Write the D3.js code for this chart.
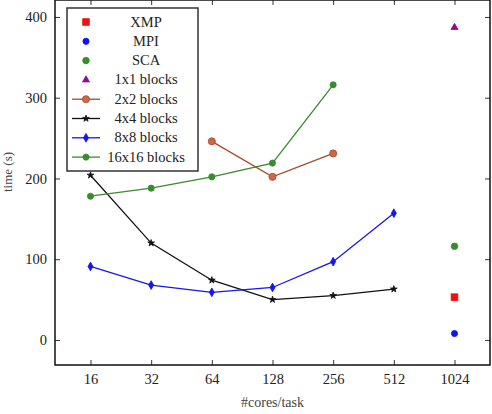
<!DOCTYPE html>
<html>
<head>
<meta charset="utf-8">
<script src="https://cdn.jsdelivr.net/npm/d3@7"></script>
<style>
  body { margin: 0; background: #fff; }
  text { font-family: "Liberation Serif", "DejaVu Serif", serif; }
</style>
</head>
<body>
<script>
// data
const cores = [16, 32, 64, 128, 256, 512, 1024];
const xmp = [[1024, 53]];
const mpi = [[1024, 8]];
const sca = [[1024, 116]];
const blocks1 = [[1024, 387]];
const blocks2 = [[64, 246], [128, 202], [256, 231]];
const blocks4 = [[16, 204], [32, 120], [64, 74], [128, 50], [256, 55], [512, 63]];
const blocks8 = [[16, 91], [32, 68], [64, 59], [128, 65], [256, 97], [512, 157]];
const blocks16 = [[16, 178], [32, 188], [64, 202], [128, 219], [256, 316]];
const yTicks = [0, 100, 200, 300, 400];

const series = [
  { name: 'XMP', data: xmp, color: '#f01010', symbol: d3.symbolSquare, size: 45, line: false },
  { name: 'MPI', data: mpi, color: '#1010f0', symbol: d3.symbolCircle, size: 30, line: false },
  { name: 'SCA', data: sca, color: '#3a8a30', symbol: d3.symbolCircle, size: 34, line: false },
  { name: '1x1 blocks', data: blocks1, color: '#8a1090', symbol: d3.symbolTriangle, size: 22, line: false },
  { name: '2x2 blocks', data: blocks2, color: '#a8482a', symbol: d3.symbolCircle, size: 40, line: true, fill: '#c86a4a' },
  { name: '4x4 blocks', data: blocks4, color: '#111111', symbol: d3.symbolStar, size: 14, line: true },
  { name: '8x8 blocks', data: blocks8, color: '#1515f0', symbol: d3.symbolDiamond, size: 22, line: true },
  { name: '16x16 blocks', data: blocks16, color: '#3a8a30', symbol: d3.symbolCircle, size: 30, line: true }
];

const margin = { top: 0, right: 2, bottom: 49, left: 55 };
const width = 492 - margin.left - margin.right;
const height = 414 - margin.top - margin.bottom;

const svg = d3.select('body').append('svg')
  .attr('width', 492)
  .attr('height', 414)
  .append('g')
  .attr('transform', `translate(${margin.left}, ${margin.top})`);

const x = d3.scaleLog().base(2).domain([16 / 1.5, 1024 * 1.5]).range([0, width]);
const y = d3.scaleLinear().domain([-31, 421]).range([height, 0]);

const xAxis = d3.axisBottom(x).tickValues(cores).tickFormat(d3.format('d')).tickSizeInner(-5).tickSizeOuter(0).tickPadding(9);
const xTop = d3.axisTop(x).tickValues(cores).tickFormat('').tickSizeInner(-5).tickSizeOuter(0);
const yAxis = d3.axisLeft(y).tickValues(yTicks).tickSizeInner(-5).tickSizeOuter(0).tickPadding(8);
const yRight = d3.axisRight(y).tickValues(yTicks).tickFormat('').tickSizeInner(-5).tickSizeOuter(0);

svg.append('g').attr('transform', `translate(0,${height})`).call(xAxis);
svg.append('g').call(xTop);
svg.append('g').call(yAxis);
svg.append('g').attr('transform', `translate(${width},0)`).call(yRight);

svg.selectAll('.domain').remove();
svg.selectAll('.tick line').attr('stroke', '#333');
svg.selectAll('.tick text').attr('font-size', 14.5).attr('fill', '#222')
  .style('font-family', '"Liberation Serif", serif');

svg.append('rect')
  .attr('width', width).attr('height', height)
  .attr('fill', 'none').attr('stroke', '#111').attr('stroke-width', 1.5);

const line = d3.line().x(d => x(d[0])).y(d => y(d[1]));

series.forEach(s => {
  if (s.line) {
    svg.append('path')
      .datum(s.data)
      .attr('fill', 'none')
      .attr('stroke', s.color)
      .attr('stroke-width', 1.3)
      .attr('d', line);
  }
  svg.selectAll(null)
    .data(s.data)
    .enter()
    .append('path')
    .attr('transform', d => `translate(${x(d[0])},${y(d[1])})`)
    .attr('d', d3.symbol().type(s.symbol).size(s.size))
    .attr('fill', s.fill || s.color)
    .attr('stroke', s.color)
    .attr('stroke-width', 0.8);
});

// legend
const legend = svg.append('g').attr('transform', 'translate(12, 8)');
legend.append('rect')
  .attr('width', 131).attr('height', 163)
  .attr('fill', '#fff').attr('stroke', '#333').attr('stroke-width', 1.5);

series.forEach((s, i) => {
  const yy = 14 + i * 19.3;
  if (s.line) {
    legend.append('line')
      .attr('x1', 5).attr('x2', 33).attr('y1', yy).attr('y2', yy)
      .attr('stroke', s.color).attr('stroke-width', 1.3);
  }
  legend.append('path')
    .attr('transform', `translate(19,${yy})`)
    .attr('d', d3.symbol().type(s.symbol).size(s.size))
    .attr('fill', s.fill || s.color)
    .attr('stroke', s.color)
    .attr('stroke-width', 0.8);
  legend.append('text')
    .attr('x', 79).attr('y', yy + 4.5)
    .attr('text-anchor', 'middle')
    .attr('font-size', 14.5)
    .attr('fill', '#222')
    .text(s.name);
});

svg.append('text')
  .attr('x', width / 2)
  .attr('y', height + 42)
  .attr('text-anchor', 'middle')
  .attr('font-size', 14)
  .attr('fill', '#444')
  .text('#cores/task');

svg.append('text')
  .attr('transform', `translate(${-43},172) rotate(-90)`)
  .attr('text-anchor', 'middle')
  .attr('font-size', 13)
  .attr('fill', '#444')
  .text('time (s)');
</script>
</body>
</html>
